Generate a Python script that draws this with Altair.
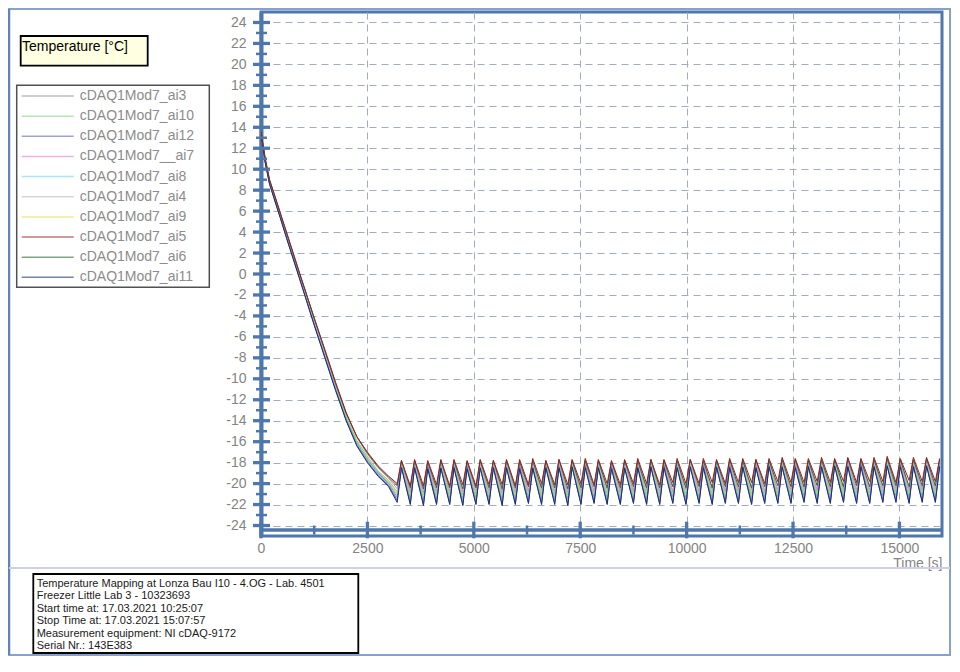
import altair as alt
import pandas as pd

# ---------------- data ----------------
SERIES = ["cDAQ1Mod7_ai3", "cDAQ1Mod7_ai10", "cDAQ1Mod7_ai12", "cDAQ1Mod7__ai7",
          "cDAQ1Mod7_ai8", "cDAQ1Mod7_ai4", "cDAQ1Mod7_ai9", "cDAQ1Mod7_ai5",
          "cDAQ1Mod7_ai6", "cDAQ1Mod7_ai11"]
COLORS = ["#8e8ea4", "#7fd87f", "#6060c8", "#e07ee0", "#6fd6e6", "#b9b9b9",
          "#e6dc4a", "#9a1f1f", "#2f6b34", "#1f2d6e"]
DRAW_ORDER = ["cDAQ1Mod7_ai4", "cDAQ1Mod7_ai3", "cDAQ1Mod7_ai9", "cDAQ1Mod7_ai10",
              "cDAQ1Mod7_ai8", "cDAQ1Mod7__ai7", "cDAQ1Mod7_ai12", "cDAQ1Mod7_ai11",
              "cDAQ1Mod7_ai6", "cDAQ1Mod7_ai5"]

# cool-down phase (time in s)
COOL_T = [0, 100, 200, 300, 450, 600, 750, 900, 1050, 1250, 1500, 1750, 2000, 2250, 2500, 2750, 3000]
# cycling phase: trough times and peak times (s)
TROUGH_T = [3200, 3508, 3817, 4125, 4434, 4742,
            5050, 5359, 5667, 5976, 6284, 6592,
            6901, 7209, 7518, 7826, 8134, 8443,
            8751, 9060, 9368, 9676, 9985, 10293,
            10602, 10910, 11218, 11527, 11835, 12144,
            12452, 12760, 13069, 13377, 13686, 13994,
            14302, 14611, 14919, 15228, 15536, 15844]
PEAK_T = [3300, 3608, 3917, 4225, 4534, 4842,
          5150, 5459, 5767, 6076, 6384, 6692,
          7001, 7309, 7618, 7926, 8234, 8543,
          8851, 9160, 9468, 9776, 10085, 10393,
          10702, 11010, 11318, 11627, 11935, 12244,
          12552, 12860, 13169, 13477, 13786, 14094,
          14402, 14711, 15019, 15328, 15636, 15944]

# ---- ai5 ----
COOL_AI5 = [13.6, 11.0, 9.0, 7.8, 5.9, 4.0, 2.1, 0.2, -1.7, -4.2, -7.2, -10.3, -13.2, -15.5, -17.0, -18.3, -19.3]
TROUGH_AI5 = [-20.0, -20.2, -20.2, -20.1, -20.2, -20.1,
              -20.2, -20.1, -20.1, -20.2, -20.1, -20.0,
              -20.1, -20.1, -20.0, -20.1, -20.0, -20.1,
              -20.0, -20.0, -20.1, -19.9, -20.0, -20.0,
              -19.9, -20.0, -19.9, -19.9, -20.0, -19.8,
              -19.9, -19.9, -19.8, -19.9, -19.8, -19.9,
              -19.8, -19.8, -19.9, -19.7, -19.8, -19.8]
PEAK_AI5 = [-17.8, -17.7, -17.8, -17.7, -17.7, -17.8,
            -17.7, -17.8, -17.7, -17.7, -17.6, -17.8,
            -17.7, -17.7, -17.6, -17.7, -17.8, -17.7,
            -17.6, -17.7, -17.7, -17.6, -17.7, -17.6,
            -17.7, -17.6, -17.6, -17.7, -17.6, -17.5,
            -17.6, -17.6, -17.5, -17.6, -17.5, -17.6,
            -17.5, -17.4, -17.6, -17.5, -17.5, -17.6]
# ---- ai6 ----
COOL_AI6 = [13.6, 11.0, 9.0, 7.7, 5.8, 3.9, 2.0, 0.1, -1.7, -4.2, -7.3, -10.4, -13.3, -15.5, -17.1, -18.4, -19.4]
TROUGH_AI6 = [-20.2, -20.4, -20.5, -20.4, -20.4, -20.5,
              -20.4, -20.4, -20.5, -20.4, -20.3, -20.4,
              -20.4, -20.5, -20.4, -20.3, -20.4, -20.4,
              -20.3, -20.4, -20.4, -20.3, -20.4, -20.3,
              -20.4, -20.3, -20.3, -20.4, -20.3, -20.2,
              -20.3, -20.3, -20.2, -20.3, -20.3, -20.2,
              -20.3, -20.2, -20.2, -20.3, -20.2, -20.2]
PEAK_AI6 = [-17.8, -17.8, -17.9, -17.8, -17.8, -17.9,
            -17.8, -17.8, -17.8, -17.9, -17.8, -17.8,
            -17.7, -17.8, -17.8, -17.8, -17.9, -17.8,
            -17.8, -17.7, -17.8, -17.8, -17.7, -17.8,
            -17.8, -17.7, -17.8, -17.7, -17.8, -17.7,
            -17.7, -17.8, -17.7, -17.7, -17.6, -17.7,
            -17.7, -17.6, -17.7, -17.7, -17.6, -17.7]
# ---- ai7 ----
COOL_AI7 = [13.5, 10.9, 8.9, 7.7, 5.8, 3.9, 2.0, 0.1, -1.8, -4.3, -7.4, -10.5, -13.3, -15.6, -17.2, -18.5, -19.5]
TROUGH_AI7 = [-20.5, -20.7, -20.8, -20.7, -20.7, -20.8,
              -20.7, -20.7, -20.8, -20.7, -20.7, -20.6,
              -20.7, -20.8, -20.7, -20.7, -20.6, -20.7,
              -20.7, -20.6, -20.7, -20.7, -20.6, -20.7,
              -20.6, -20.7, -20.6, -20.6, -20.7, -20.6,
              -20.6, -20.5, -20.6, -20.6, -20.5, -20.6,
              -20.6, -20.5, -20.5, -20.6, -20.5, -20.5]
PEAK_AI7 = [-17.9, -17.9, -18.0, -17.9, -17.9, -18.0,
            -17.9, -17.9, -17.9, -18.0, -17.9, -17.9,
            -17.9, -17.8, -17.9, -17.9, -18.0, -17.9,
            -17.9, -17.8, -17.9, -17.9, -17.8, -17.9,
            -17.8, -17.9, -17.8, -17.9, -17.8, -17.8,
            -17.9, -17.8, -17.8, -17.7, -17.8, -17.8,
            -17.8, -17.7, -17.8, -17.8, -17.7, -17.8]
# ---- ai10 ----
COOL_AI10 = [13.4, 10.8, 8.8, 7.5, 5.6, 3.7, 1.8, -0.1, -2.0, -4.5, -7.6, -10.7, -13.6, -15.9, -17.4, -18.8, -19.7]
TROUGH_AI10 = [-20.8, -21.0, -21.1, -21.0, -21.0, -21.1,
               -21.0, -21.0, -21.1, -21.0, -20.9, -21.0,
               -21.0, -21.1, -21.0, -20.9, -21.0, -21.0,
               -20.9, -21.0, -21.0, -20.9, -21.0, -20.9,
               -21.0, -20.9, -20.9, -21.0, -20.9, -20.9,
               -20.9, -20.8, -20.9, -20.9, -20.8, -20.9,
               -20.9, -20.8, -20.8, -20.9, -20.8, -20.8]
PEAK_AI10 = [-17.9, -17.9, -17.9, -18.0, -17.9, -17.9,
             -18.0, -17.9, -17.9, -17.9, -18.0, -17.9,
             -17.9, -17.9, -17.8, -17.9, -17.9, -18.0,
             -17.9, -17.9, -17.8, -17.9, -17.9, -17.8,
             -17.9, -17.8, -17.9, -17.9, -17.8, -17.9,
             -17.8, -17.8, -17.9, -17.8, -17.8, -17.7,
             -17.8, -17.8, -17.7, -17.8, -17.8, -17.8]
# ---- ai9 ----
COOL_AI9 = [13.4, 10.8, 8.8, 7.5, 5.6, 3.7, 1.8, -0.1, -2.0, -4.5, -7.6, -10.7, -13.6, -15.9, -17.5, -18.8, -19.8]
TROUGH_AI9 = [-20.9, -21.1, -21.2, -21.1, -21.1, -21.2,
              -21.1, -21.1, -21.2, -21.1, -21.0, -21.1,
              -21.1, -21.2, -21.1, -21.0, -21.1, -21.1,
              -21.0, -21.1, -21.1, -21.0, -21.1, -21.0,
              -21.1, -21.0, -21.0, -21.1, -21.0, -21.0,
              -21.0, -20.9, -21.0, -21.0, -20.9, -21.0,
              -21.0, -20.9, -20.9, -21.0, -20.9, -20.9]
PEAK_AI9 = [-18.0, -18.0, -18.0, -18.1, -18.0, -18.0,
            -18.1, -18.0, -18.0, -18.0, -18.1, -18.0,
            -18.0, -18.0, -17.9, -18.0, -18.0, -18.1,
            -18.0, -18.0, -17.9, -18.0, -18.0, -17.9,
            -18.0, -17.9, -18.0, -18.0, -17.9, -18.0,
            -17.9, -17.9, -18.0, -17.9, -17.9, -17.8,
            -17.9, -17.9, -17.8, -17.9, -17.9, -17.9]
# ---- ai4 ----
COOL_AI4 = [13.4, 10.8, 8.8, 7.5, 5.5, 3.6, 1.7, -0.2, -2.1, -4.6, -7.7, -10.8, -13.7, -16.0, -17.6, -18.9, -19.9]
TROUGH_AI4 = [-21.1, -21.3, -21.4, -21.3, -21.3, -21.4,
              -21.3, -21.3, -21.4, -21.3, -21.2, -21.3,
              -21.3, -21.4, -21.3, -21.2, -21.3, -21.3,
              -21.2, -21.3, -21.3, -21.2, -21.3, -21.2,
              -21.3, -21.2, -21.2, -21.3, -21.2, -21.2,
              -21.2, -21.1, -21.2, -21.2, -21.1, -21.2,
              -21.2, -21.1, -21.1, -21.2, -21.1, -21.1]
PEAK_AI4 = [-18.1, -18.1, -18.2, -18.1, -18.1, -18.2,
            -18.1, -18.1, -18.1, -18.2, -18.1, -18.1,
            -18.1, -18.0, -18.1, -18.1, -18.2, -18.1,
            -18.1, -18.0, -18.1, -18.1, -18.0, -18.1,
            -18.0, -18.1, -18.0, -18.1, -18.0, -18.0,
            -18.1, -18.0, -18.0, -17.9, -18.0, -18.0,
            -18.0, -17.9, -18.0, -18.0, -17.9, -18.0]
# ---- ai3 ----
COOL_AI3 = [13.3, 10.7, 8.7, 7.4, 5.5, 3.6, 1.7, -0.2, -2.1, -4.6, -7.8, -10.9, -13.8, -16.1, -17.7, -19.0, -20.0]
TROUGH_AI3 = [-21.3, -21.5, -21.6, -21.5, -21.5, -21.6,
              -21.5, -21.5, -21.6, -21.5, -21.4, -21.5,
              -21.5, -21.6, -21.5, -21.4, -21.5, -21.5,
              -21.4, -21.5, -21.5, -21.4, -21.5, -21.4,
              -21.5, -21.4, -21.4, -21.5, -21.4, -21.4,
              -21.4, -21.3, -21.4, -21.4, -21.3, -21.4,
              -21.4, -21.3, -21.3, -21.4, -21.3, -21.3]
PEAK_AI3 = [-18.2, -18.2, -18.2, -18.3, -18.2, -18.2,
            -18.3, -18.2, -18.2, -18.2, -18.3, -18.2,
            -18.2, -18.2, -18.1, -18.2, -18.2, -18.3,
            -18.2, -18.2, -18.1, -18.2, -18.2, -18.1,
            -18.2, -18.1, -18.2, -18.2, -18.1, -18.2,
            -18.1, -18.1, -18.2, -18.1, -18.1, -18.0,
            -18.1, -18.1, -18.0, -18.1, -18.1, -18.1]
# ---- ai8 ----
COOL_AI8 = [13.3, 10.7, 8.7, 7.4, 5.5, 3.5, 1.6, -0.3, -2.2, -4.7, -7.8, -10.9, -13.9, -16.2, -17.8, -19.1, -20.1]
TROUGH_AI8 = [-21.5, -21.7, -21.8, -21.7, -21.7, -21.8,
              -21.7, -21.7, -21.8, -21.7, -21.6, -21.7,
              -21.7, -21.8, -21.7, -21.6, -21.7, -21.7,
              -21.6, -21.7, -21.7, -21.6, -21.7, -21.6,
              -21.7, -21.6, -21.6, -21.7, -21.6, -21.6,
              -21.6, -21.5, -21.6, -21.6, -21.5, -21.6,
              -21.6, -21.5, -21.5, -21.6, -21.5, -21.5]
PEAK_AI8 = [-18.3, -18.3, -18.4, -18.3, -18.3, -18.4,
            -18.3, -18.3, -18.3, -18.4, -18.3, -18.3,
            -18.3, -18.2, -18.3, -18.3, -18.4, -18.3,
            -18.3, -18.2, -18.3, -18.3, -18.2, -18.3,
            -18.2, -18.3, -18.2, -18.3, -18.2, -18.2,
            -18.3, -18.2, -18.2, -18.1, -18.2, -18.2,
            -18.2, -18.1, -18.2, -18.2, -18.1, -18.2]
# ---- ai12 ----
COOL_AI12 = [13.2, 10.6, 8.6, 7.3, 5.4, 3.5, 1.6, -0.3, -2.3, -4.8, -7.9, -11.0, -13.9, -16.3, -17.9, -19.2, -20.2]
TROUGH_AI12 = [-21.6, -21.9, -22.0, -21.9, -21.9, -22.0,
               -21.9, -21.9, -22.0, -21.9, -21.8, -21.9,
               -21.9, -22.0, -21.9, -21.8, -21.9, -21.9,
               -21.8, -21.9, -21.9, -21.8, -21.9, -21.8,
               -21.9, -21.8, -21.8, -21.9, -21.8, -21.8,
               -21.8, -21.7, -21.8, -21.8, -21.7, -21.8,
               -21.8, -21.7, -21.7, -21.8, -21.7, -21.7]
PEAK_AI12 = [-18.4, -18.4, -18.4, -18.5, -18.4, -18.4,
             -18.5, -18.4, -18.4, -18.4, -18.5, -18.4,
             -18.4, -18.4, -18.3, -18.4, -18.4, -18.5,
             -18.4, -18.4, -18.3, -18.4, -18.4, -18.3,
             -18.4, -18.3, -18.4, -18.4, -18.3, -18.4,
             -18.3, -18.3, -18.4, -18.3, -18.3, -18.2,
             -18.3, -18.3, -18.2, -18.3, -18.3, -18.3]
# ---- ai11 ----
COOL_AI11 = [13.2, 10.6, 8.6, 7.3, 5.4, 3.4, 1.5, -0.4, -2.3, -4.9, -8.0, -11.1, -14.0, -16.4, -18.0, -19.3, -20.3]
TROUGH_AI11 = [-21.8, -22.0, -22.1, -22.0, -22.0, -22.1,
               -22.0, -22.0, -22.1, -22.0, -21.9, -22.0,
               -22.0, -22.1, -22.0, -21.9, -22.0, -22.0,
               -21.9, -22.0, -22.0, -21.9, -22.0, -21.9,
               -22.0, -21.9, -21.9, -22.0, -21.9, -21.9,
               -21.9, -21.8, -21.9, -21.9, -21.8, -21.9,
               -21.9, -21.8, -21.8, -21.9, -21.8, -21.8]
PEAK_AI11 = [-18.5, -18.5, -18.6, -18.5, -18.5, -18.6,
             -18.5, -18.5, -18.5, -18.6, -18.5, -18.5,
             -18.5, -18.4, -18.5, -18.5, -18.6, -18.5,
             -18.5, -18.4, -18.5, -18.5, -18.4, -18.5,
             -18.4, -18.5, -18.4, -18.5, -18.4, -18.4,
             -18.5, -18.4, -18.4, -18.3, -18.4, -18.4,
             -18.4, -18.3, -18.4, -18.4, -18.3, -18.4]

X_MAJOR = [0, 2500, 5000, 7500, 10000, 12500, 15000]
X_MINOR = [1250, 3750, 6250, 8750, 11250, 13750]
Y_MAJOR = [-24, -22, -20, -18, -16, -14, -12, -10, -8, -6, -4, -2, 0,
           2, 4, 6, 8, 10, 12, 14, 16, 18, 20, 22, 24]
Y_MINOR = [-23, -21, -19, -17, -15, -13, -11, -9, -7, -5, -3, -1,
           1, 3, 5, 7, 9, 11, 13, 15, 17, 19, 21, 23]

Y_TITLE = "Temperature [°C]"
X_TITLE = "Time [s]"
INFO_LINES = ["Temperature Mapping at Lonza Bau I10 - 4.OG - Lab. 4501",
              "Freezer Little Lab 3 - 10323693",
              "Start time at: 17.03.2021 10:25:07",
              "Stop Time at: 17.03.2021 15:07:57",
              "Measurement equipment: NI cDAQ-9172",
              "Serial Nr.: 143E383"]

# ---------------- build long table ----------------
SERIES_DATA = {
    "cDAQ1Mod7_ai3": (COOL_AI3, TROUGH_AI3, PEAK_AI3),
    "cDAQ1Mod7_ai10": (COOL_AI10, TROUGH_AI10, PEAK_AI10),
    "cDAQ1Mod7_ai12": (COOL_AI12, TROUGH_AI12, PEAK_AI12),
    "cDAQ1Mod7__ai7": (COOL_AI7, TROUGH_AI7, PEAK_AI7),
    "cDAQ1Mod7_ai8": (COOL_AI8, TROUGH_AI8, PEAK_AI8),
    "cDAQ1Mod7_ai4": (COOL_AI4, TROUGH_AI4, PEAK_AI4),
    "cDAQ1Mod7_ai9": (COOL_AI9, TROUGH_AI9, PEAK_AI9),
    "cDAQ1Mod7_ai5": (COOL_AI5, TROUGH_AI5, PEAK_AI5),
    "cDAQ1Mod7_ai6": (COOL_AI6, TROUGH_AI6, PEAK_AI6),
    "cDAQ1Mod7_ai11": (COOL_AI11, TROUGH_AI11, PEAK_AI11),
}
rows = []
for name in DRAW_ORDER:
    cool, tr, pk = SERIES_DATA[name]
    for t, v in zip(COOL_T, cool):
        rows.append({"t": t, "v": v, "s": name})
    for tt, tv, pt, pv in zip(TROUGH_T, tr, PEAK_T, pk):
        rows.append({"t": tt, "v": tv, "s": name})
        rows.append({"t": pt, "v": pv, "s": name})
df = pd.DataFrame(rows)

# ---------------- styling ----------------
FONT = "Liberation Sans"
BLUE = "#4d77ad"
GRID = "#a2acbc"
LABEL = "#848484"
W, H = 681, 524
XS = alt.Scale(domain=[0, 16000], nice=False, zero=False)
YS = alt.Scale(domain=[-25, 25], nice=False, zero=False)
one = pd.DataFrame({"k": [0]})

X_AXIS = alt.Axis(
    values=X_MAJOR, format="d", grid=True, gridColor=GRID, gridDash=[7, 5], gridWidth=1,
    ticks=False, tickSize=0, domain=False, labelFont=FONT, labelFontSize=14,
    labelColor=LABEL, labelPadding=5, labelFlush=False, labelOverlap=False,
    title=X_TITLE, titleX=W, titleY=20, titleAlign="right", titleAnchor="end",
    titleBaseline="top", titleFont=FONT, titleFontSize=14, titleFontWeight="normal",
    titleColor=LABEL)
Y_AXIS = alt.Axis(
    values=Y_MAJOR, labelExpr="'' + datum.value", grid=True, gridColor=GRID,
    gridDash=[7, 5], gridWidth=1, ticks=False, tickSize=0, domain=True,
    domainColor=BLUE, domainWidth=4, labelFont=FONT, labelFontSize=14,
    labelColor=LABEL, labelPadding=15, labelFlush=False, labelOverlap=False, title=None)

lines = alt.Chart(df).mark_line(strokeWidth=1, clip=True).encode(
    x=alt.X("t:Q", scale=XS, axis=X_AXIS),
    y=alt.Y("v:Q", scale=YS, axis=Y_AXIS),
    color=alt.Color("s:N", scale=alt.Scale(domain=SERIES, range=COLORS), legend=alt.Legend(
        title=None, orient="none", legendX=-244.3, legendY=72.5, symbolType="stroke",
        symbolSize=2704, symbolStrokeWidth=1.5, symbolOpacity=0.6, clipHeight=15,
        rowPadding=5.15, padding=4, labelOffset=5, labelFont=FONT, labelFontSize=14,
        labelColor="#8c8c8c")),
)

ymaj = alt.Chart(pd.DataFrame({"v": Y_MAJOR})).mark_tick(
    color=BLUE, size=17, thickness=3.3, orient="horizontal", opacity=1).encode(
    y=alt.Y("v:Q", scale=YS, axis=Y_AXIS), x=alt.value(0.5))
ymin = alt.Chart(pd.DataFrame({"v": Y_MINOR})).mark_tick(
    color=BLUE, size=11, thickness=2.5, orient="horizontal", opacity=1).encode(
    y=alt.Y("v:Q", scale=YS, axis=Y_AXIS), x=alt.value(0.5))
xmaj = alt.Chart(pd.DataFrame({"t": X_MAJOR})).mark_tick(
    color=BLUE, size=16.6, thickness=3.3, orient="vertical", opacity=1).encode(
    x=alt.X("t:Q", scale=XS, axis=X_AXIS), y=alt.value(518))
xmin = alt.Chart(pd.DataFrame({"t": X_MINOR})).mark_tick(
    color=BLUE, size=9, thickness=2.5, orient="vertical", opacity=1).encode(
    x=alt.X("t:Q", scale=XS, axis=X_AXIS), y=alt.value(518))

inner_rule = alt.Chart(one).mark_rule(color=BLUE, strokeWidth=3.5).encode(
    x=alt.value(0), x2=alt.value(W), y=alt.value(518))

outer = alt.Chart(one).mark_rect(fillOpacity=0, stroke="#86a2cb", strokeWidth=2).encode(
    x=alt.value(-252), x2=alt.value(689), y=alt.value(-3), y2=alt.value(643))
outer_left = alt.Chart(one).mark_rule(color="#5f84b8", strokeWidth=2.5).encode(
    x=alt.value(-252), y=alt.value(-3), y2=alt.value(643))
sep = alt.Chart(one).mark_rule(color="#cfd0e6", strokeWidth=2).encode(
    x=alt.value(-252), x2=alt.value(689), y=alt.value(556))

legend_box = alt.Chart(one).mark_rect(fill="white", stroke="#505050", strokeWidth=1.5).encode(
    x=alt.value(-244.3), x2=alt.value(-51.7), y=alt.value(73.3), y2=alt.value(275.3))

title_box = alt.Chart(one).mark_rect(fill="#ffffe1", stroke="black", strokeWidth=1.8).encode(
    x=alt.value(-240.3), x2=alt.value(-113.3), y=alt.value(24), y2=alt.value(53.7))
title_txt = alt.Chart(pd.DataFrame({"txt": [Y_TITLE]})).mark_text(
    align="left", baseline="middle", font=FONT, fontSize=14, color="black").encode(
    x=alt.value(-239), y=alt.value(35), text="txt:N")

info_box = alt.Chart(one).mark_rect(fill="white", stroke="black", strokeWidth=1.8).encode(
    x=alt.value(-227.7), x2=alt.value(97.3), y=alt.value(562), y2=alt.value(641))
info_txt = alt.Chart(pd.DataFrame({"txt": ["\n".join(INFO_LINES)]})).mark_text(
    align="left", baseline="top", font=FONT, fontSize=11, color="#1a1a1a",
    lineBreak="\n", lineHeight=12.5).encode(
    x=alt.value(-224.3), y=alt.value(565.5), text="txt:N")

chart = alt.layer(
    lines, outer, outer_left, sep, inner_rule, ymin, ymaj, xmin, xmaj,
    legend_box, title_box, title_txt, info_box, info_txt
).properties(
    width=W, height=H,
    padding={"left": 253, "top": 4, "right": 9, "bottom": 120},
    autosize=alt.AutoSizeParams(type="none"),
    background="white",
).configure(font=FONT).configure_view(stroke=BLUE, strokeWidth=3)

chart.save("out.html", embed_options={"renderer": "svg", "actions": False})
